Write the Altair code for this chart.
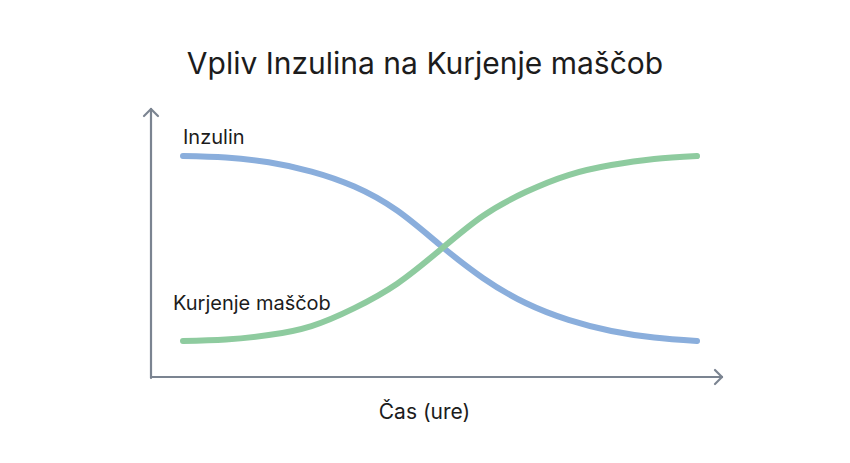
import altair as alt
import pandas as pd

# ---- data ----
hours = [0, 1, 2, 3, 4, 5, 6, 7, 8, 9, 10, 11, 12]
inzulin = [100, 99.2, 96.6, 91.6, 83.5, 70.5, 51.9, 34.1, 20.5, 11.4, 5.4, 1.9, 0]
kurjenje = [0, 0.8, 3.2, 8.1, 17.8, 31.0, 49.2, 67.6, 80.5, 89.7, 95.1, 98.4, 100]
series = ["Inzulin", "Kurjenje maščob"]
colors = ["#8aaedc", "#8ecb9f"]
title_text = "Vpliv Inzulina na Kurjenje maščob"
x_title = "Čas (ure)"

rows = []
for h, a, b in zip(hours, inzulin, kurjenje):
    rows.append({"ura": h, "vrednost": a, "serija": series[0]})
    rows.append({"ura": h, "vrednost": b, "serija": series[1]})
df = pd.DataFrame(rows)

FONT = "Inter"
AXIS_COLOR = "#7b8491"
TEXT_COLOR = "#1c1c1c"

x_scale = alt.Scale(domain=[0, 12], range=[175, 689], nice=False, zero=False)
y_scale = alt.Scale(domain=[0, 100], range=[241, 56], nice=False, zero=False)

lines = alt.Chart(df).mark_line(
    strokeWidth=6, strokeCap="round", interpolate="natural"
).encode(
    x=alt.X("ura:Q", scale=x_scale,
            axis=alt.Axis(domain=False, ticks=False, labels=False, grid=False,
                          title=x_title, titleX=416, titleY=-37,
                          titleBaseline="alphabetic", titleAnchor="middle",
                          titleAlign="center",
                          titleFont=FONT, titleFontSize=21, titleFontWeight="normal",
                          titleColor=TEXT_COLOR)),
    y=alt.Y("vrednost:Q", scale=y_scale, axis=None),
    color=alt.Color("serija:N", scale=alt.Scale(domain=series, range=colors), legend=None),
    detail="serija:N",
)

lbl_df = pd.DataFrame({"serija": series})

lbl_inz = alt.Chart(lbl_df).transform_filter(
    alt.datum.serija == series[0]
).mark_text(align="left", baseline="alphabetic", font=FONT, fontSize=20,
            color=TEXT_COLOR).encode(
    x=alt.value(175), y=alt.value(44), text="serija:N")

lbl_kur = alt.Chart(lbl_df).transform_filter(
    alt.datum.serija == series[1]
).mark_text(align="left", baseline="alphabetic", font=FONT, fontSize=20,
            color=TEXT_COLOR).encode(
    x=alt.value(165), y=alt.value(210), text="serija:N")

def rule(x1, y1, x2, y2):
    return alt.Chart(lbl_df.head(1)).mark_rule(
        color=AXIS_COLOR, strokeWidth=2.2, strokeCap="round"
    ).encode(x=alt.value(x1), y=alt.value(y1), x2=alt.value(x2), y2=alt.value(y2))

axes = [
    rule(143, 278, 143, 9),      # y-axis
    rule(143, 9, 136, 16),
    rule(143, 9, 150, 16),
    rule(143, 277, 714, 277),    # x-axis
    rule(714, 277, 707, 270),
    rule(714, 277, 707, 284),
]

chart = alt.layer(*axes, lines, lbl_inz, lbl_kur).properties(
    width=834,
    height=355,
    autosize="none",
    padding={"left": 0, "top": 92, "right": 0, "bottom": 0},
    title=alt.Title(title_text, font=FONT, fontSize=30, fontWeight="normal",
                    color=TEXT_COLOR, anchor="middle", frame="group",
                    baseline="alphabetic", offset=-4),
).configure(background="white").configure_view(stroke=None, strokeWidth=0)

chart.save("out.html", embed_options={"renderer": "svg", "actions": False})
